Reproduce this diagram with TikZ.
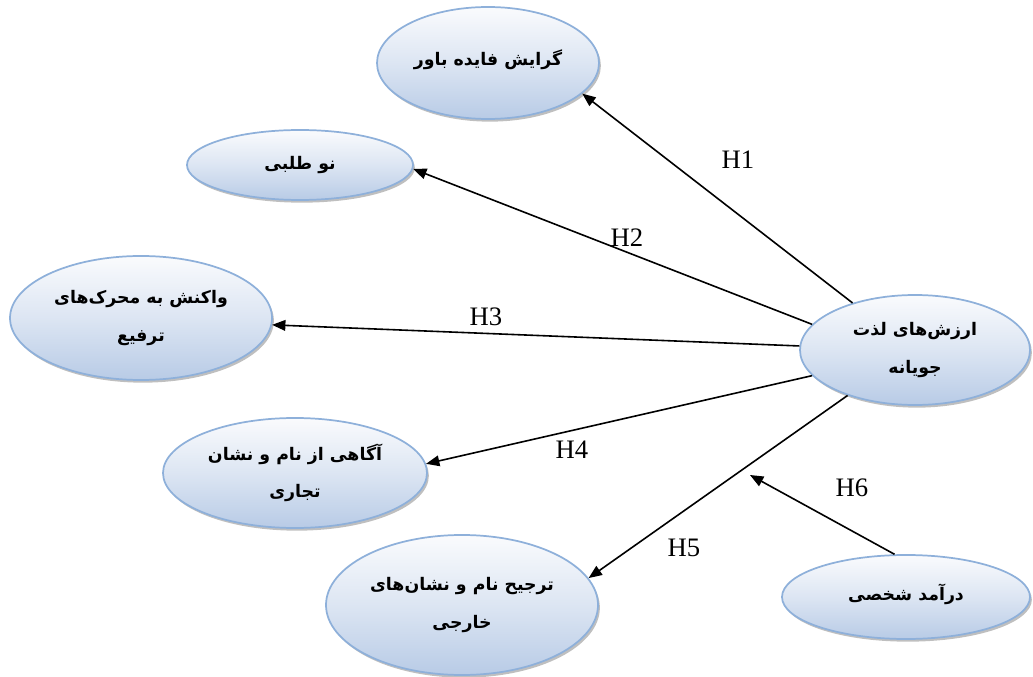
\documentclass[tikz,border=0pt]{standalone}
\usepackage{fontspec}
\setmainfont{Liberation Serif}
\newfontfamily\arabicfont[Script=Arabic]{DejaVu Sans}
\TeXXeTstate=1
\usetikzlibrary{shapes.geometric,shadows,arrows.meta}

\definecolor{ovalline}{RGB}{142,176,218}
\definecolor{ovalbottom}{RGB}{184,203,230}
\definecolor{ovaltop}{RGB}{250,251,253}

\tikzset{
  oval/.style={ellipse, draw=ovalline, line width=1.3pt, inner sep=0pt,
    top color=ovaltop, bottom color=ovalbottom, middle color=ovaltop!55!ovalbottom,
    drop shadow={shadow xshift=1.4pt, shadow yshift=-2pt, fill=black!50},
    align=center, font=\arabicfont\bfseries\fontsize{13}{28}\selectfont},
  link/.style={line width=1.2pt, -{Triangle[length=10pt,width=8pt]}},
  hlabel/.style={font=\fontsize{20}{24}\selectfont, inner sep=0pt}
}

\begin{document}
\begin{tikzpicture}[x=0.75pt, y=-0.75pt]
\useasboundingbox (0,0) rectangle (1033,677);

% ovals
\node[oval, minimum width=166.5pt, minimum height=84pt] (belief) at (488,63)
  {\raisebox{8pt}{\beginR گرایش فایده باور\endR}};
\node[oval, minimum width=169.5pt, minimum height=52.5pt] (novelty) at (300,165)
  {\beginR نو طلبی\endR};
\node[oval, minimum width=196.5pt, minimum height=93pt] (promo) at (141,318)
  {\beginR واکنش به محرک‌های\endR\\ \beginR ترفیع\endR};
\node[oval, minimum width=172.5pt, minimum height=82.5pt] (hedonic) at (915,350)
  {\beginR ارزش‌های لذت\endR\\ \beginR جویانه\endR};
\node[oval, minimum width=198pt, minimum height=82.5pt] (aware) at (295,473)
  {\beginR آگاهی از نام و نشان\endR\\ \beginR تجاری\endR};
\node[oval, minimum width=204pt, minimum height=105pt] (foreign) at (462,605)
  {\beginR ترجیح نام و نشان‌های\endR\\ \beginR خارجی\endR};
\node[oval, minimum width=186pt, minimum height=63pt] (income) at (906,597)
  {\raisebox{7pt}{\beginR درآمد شخصی\endR}};

% free end of the moderating arrow
\coordinate (h6end) at (750,475);

% hypotheses
\draw[link] (hedonic.143) -- (belief.-18);
\draw[link] (hedonic.166) -- (novelty.-2.5);
\draw[link] (hedonic.178.5) -- (promo.-3);
\draw[link] (hedonic.194.5) -- (aware.4);
\draw[link] (hedonic.214.5) -- (foreign.12.5);
\draw[link] (income.105) -- (h6end);

\node[hlabel] (h1) at (738,160) {H1};
\node[hlabel] (h2) at (627,238) {H2};
\node[hlabel] (h3) at (486,317) {H3};
\node[hlabel] (h4) at (572,450) {H4};
\node[hlabel] (h5) at (684,548) {H5};
\node[hlabel] (h6) at (852,488) {H6};
\end{tikzpicture}
\end{document}
